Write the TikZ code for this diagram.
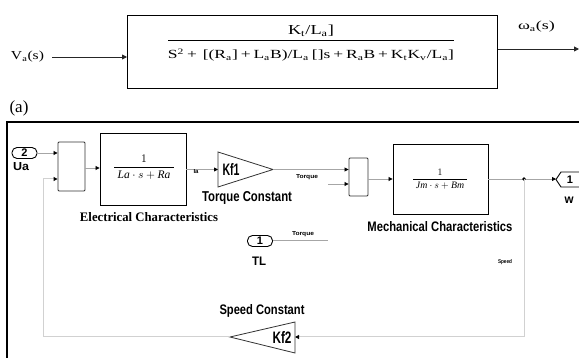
\documentclass[tikz,border=0pt]{standalone}
\usepackage{fontspec}
\setmainfont{Liberation Serif}
\newfontfamily\simfont{Liberation Sans}
\usetikzlibrary{arrows.meta,shadows}
\newcommand{\fitbox}[3]{\resizebox{#1}{#2}{#3}}
\begin{document}
\begin{tikzpicture}[x=1pt,y=-1pt,
  arrT/.style={-{Triangle[length=5,width=5]}, line width=0.9, draw=black!85},
  sig/.style={-{Triangle[length=4,width=4,color=black]}, line width=0.8, draw=black!35},
  fb/.style={line width=1, draw=black!18},
  fbarr/.style={fb,-{Triangle[length=4,width=4,color=black]}},
  blk/.style={draw, line width=0.9, inner sep=0, fill=white, drop shadow={shadow xshift=1.2pt, shadow yshift=-1.2pt, fill=black!35, opacity=1}},
  sumblk/.style={draw=black!80, line width=0.9, inner sep=0, fill=white, rounded corners=1},
  port/.style={draw, line width=0.9, rounded corners=5, minimum width=25, minimum height=11, inner sep=0, font=\simfont\bfseries\fontsize{11}{11}\selectfont},
  lab/.style={font=\simfont\bfseries, inner sep=0},
  tiny/.style={font=\simfont\bfseries, inner sep=0},
  gain/.style={line width=0.8, draw=black!80, fill=white},
  eq/.style={inner sep=0, font=\fontsize{12}{13}\selectfont}
]
\useasboundingbox (0,0) rectangle (579,358);

% ---------- (a) transfer function ----------
\node[draw, line width=0.9, minimum width=370, minimum height=73, inner sep=0, anchor=north west] (tf) at (127,15) {};
\node[eq] (num) at (311,31) {\fitbox{46pt}{9.5pt}{K\textsubscript{t}/L\textsubscript{a}]}};
\draw[line width=0.7] (168,40) -- (454,40);
\node[eq] (den) at (311,55) {\fitbox{286pt}{10pt}{S\textsuperscript{2}\,+\,\,[(R\textsubscript{a}]\,+\,L\textsubscript{a}B)/L\textsubscript{a}\,[]s\,+\,R\textsubscript{a}B\,+\,K\textsubscript{t}K\textsubscript{v}/L\textsubscript{a}]}};
\node[eq] (va) at (27.5,57) {\fitbox{33pt}{8.5pt}{V\textsubscript{a}(s)}};
\coordinate (vastart) at (52,57);
\draw[arrT] (vastart) -- (vastart -| tf.west);
\coordinate (wend) at (579,49);
\draw[arrT] (tf.east |- wend) -- (wend);
\node[eq] (wa) at (536.5,27) {\fitbox{37pt}{8.5pt}{ω\textsubscript{a}(s)}};
\node[inner sep=0, font=\fontsize{17}{18}\selectfont] (cap) at (19,108) {(a)};

% ---------- frame ----------
\draw[line width=1.3] (7,358) -- (7,122) -- (579,122);

% ---------- Simulink model ----------
\node[port] (ua) at (24.5,153) {2};
\node[lab] (ualab) at (21,167) {\fitbox{16pt}{8pt}{Ua}};
\node[sumblk, minimum width=27, minimum height=49] (s1) at (71.5,166.5) {};
\draw[sig] (ua.east) -- (ua.east -| s1.west);

\node[blk, minimum width=86, minimum height=72] (el) at (143,169) {};
\node[inner sep=0] (elfrac) at (144,167) {\fitbox{62pt}{!}{$\displaystyle\frac{1}{\;\mathit{La}\cdot s+\mathit{Ra}\;}$}};
\node[font=\bfseries, inner sep=0] (ellab) at (149,217) {\fitbox{138pt}{9pt}{Electrical Characteristics}};
\coordinate (s1out) at (85,168);
\draw[sig] (s1out) -- (s1out -| el.west);

% gain Kf1
\coordinate (k1in) at (218,169.5);
\coordinate (k1out) at (273,169.5);
\draw[gain] (218,152) -- (273,169.5) -- (218,187) -- cycle;
\node[lab] (k1t) at (231,169.5) {\fitbox{17pt}{12pt}{Kf1}};
\node[lab] (tclab) at (247,198) {\fitbox{90pt}{10pt}{Torque Constant}};
\draw[sig] (el.east |- k1in) -- (k1in);
\node[tiny] (ia) at (196,172) {\fitbox{5pt}{4pt}{Ia}};

% sum 2
\node[sumblk, minimum width=19, minimum height=38] (s2) at (358.5,177) {};
\draw[sig] (k1out) -- (k1out -| s2.west);
\node[tiny] (tq1) at (307,177) {\fitbox{22pt}{4pt}{Torque}};
\coordinate (t2) at (328,184);
\draw[sig] (t2) -- (t2 -| s2.west);

% TL
\node[port] (tl) at (260,241) {1};
\node[lab] (tllab) at (259,261) {\fitbox{14pt}{8.5pt}{TL}};
\coordinate (tlend) at (328,240);
\draw[line width=0.8, draw=black!35] (tl.east |- tlend) -- (tlend);
\node[tiny] (tq2) at (303,234) {\fitbox{22pt}{4pt}{Torque}};

% mechanical
\node[blk, minimum width=95, minimum height=70] (me) at (440.5,179) {};
\node[inner sep=0] (mefrac) at (440,179) {\fitbox{56pt}{!}{$\displaystyle\frac{1}{\;\mathit{Jm}\cdot s+\mathit{Bm}\;}$}};
\node[lab] (melab) at (440,227) {\fitbox{145pt}{10pt}{Mechanical Characteristics}};
\draw[sig] (s2.east |- me.west) -- (me.west);

% output
\coordinate (dot) at (524,179);
\coordinate (outp) at (556,179);
\draw[line width=0.8, draw=black!35] (me.east) -- (dot);
\draw[sig] (dot) -- (outp);
\fill (dot) circle (1.8);
\draw[line width=0.9] (579,172) -- (561,172) -- (556,179.5) -- (561,187) -- (579,187);
\node[font=\simfont\bfseries\fontsize{11}{11}\selectfont, inner sep=0] (one) at (570,179.5) {1};
\node[lab] (wlab) at (569,200) {\fitbox{9pt}{6.5pt}{w}};
\node[tiny] (spd) at (505,262) {\fitbox{14pt}{4pt}{Speed}};

% feedback
\coordinate (k2in) at (295,337);
\coordinate (k2out) at (230,337);
\coordinate (fbc1) at (524,337);
\coordinate (fbc2) at (43,337);
\coordinate (fbc3) at (43,179);
\draw[fb] (dot) -- (fbc1);
\draw[fbarr] (fbc1) -- (k2in);
\draw[gain] (295,322) -- (230,337) -- (295,353) -- cycle;
\node[lab] (k2t) at (282,338) {\fitbox{19pt}{12pt}{Kf2}};
\node[lab] (sclab) at (262,311) {\fitbox{85pt}{10pt}{Speed Constant}};
\draw[fb] (k2out) -- (fbc2) -- (fbc3);
\draw[fbarr] (fbc3) -- (fbc3 -| s1.west);
\end{tikzpicture}
\end{document}
